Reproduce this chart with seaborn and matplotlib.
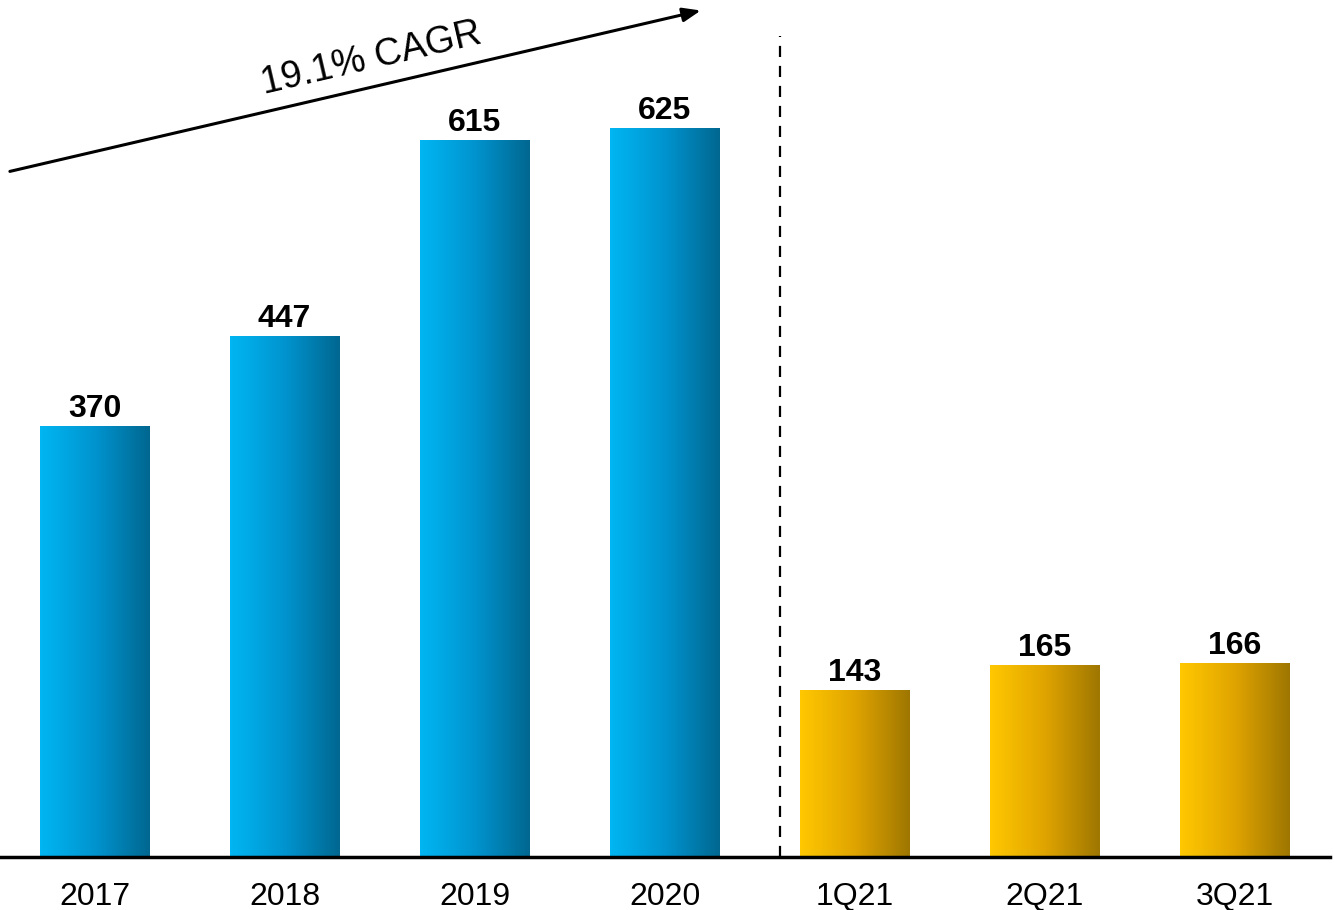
import numpy as np
import pandas as pd
import matplotlib
matplotlib.use("Agg")
import matplotlib.pyplot as plt
import seaborn as sns
from matplotlib.colors import LinearSegmentedColormap

categories = ["2017", "2018", "2019", "2020", "1Q21", "2Q21", "3Q21"]
values = [370, 447, 615, 625, 143, 165, 166]
groups = ["annual", "annual", "annual", "annual", "quarter", "quarter", "quarter"]
cagr_label = "19.1% CAGR"

sns.set_theme(style="white")
plt.rcParams['font.family'] = ['Liberation Sans', 'DejaVu Sans']

df = pd.DataFrame({"cat": categories, "val": values, "grp": groups})

fig = plt.figure(figsize=(13.34, 9.10), dpi=100)
ax = fig.add_axes([0, 53 / 910, 1330 / 1334, 857 / 910])

palette = {"annual": "#0098D0", "quarter": "#DDA800"}
sns.barplot(data=df, x="cat", y="val", hue="grp", palette=palette,
            width=0.575, dodge=False, legend=False, ax=ax, saturation=1)

grads = {
    "annual": LinearSegmentedColormap.from_list("b", ["#00B6F2", "#0094CF", "#006790"]),
    "quarter": LinearSegmentedColormap.from_list("g", ["#FFC800", "#E0A400", "#9E7600"]),
}
grad = np.linspace(0, 1, 256).reshape(1, -1)
bars = [p for p in ax.patches if p.get_height() > 0]
bars.sort(key=lambda p: p.get_x())
for p, g in zip(bars, groups):
    x0, y0 = p.get_x(), p.get_y()
    w, h = p.get_width(), p.get_height()
    im = ax.imshow(grad, cmap=grads[g], aspect="auto",
                   extent=[x0, x0 + w, y0, y0 + h], zorder=p.get_zorder() + 0.1)
    im.set_clip_path(p)
    p.set_edgecolor("none")

for cont in ax.containers:
    ax.bar_label(cont, fmt="%d", padding=1.5, fontsize=23, fontweight="bold", color="#000000")

ax.set_xlim(-0.497, 6.5)
ax.set_ylim(0, 735)
ax.set_xlabel("")
ax.set_ylabel("")
ax.set_yticks([])
ax.tick_params(axis="x", length=0, pad=18, labelsize=23, colors="#000000")
for s in ["top", "right", "left"]:
    ax.spines[s].set_visible(False)
ax.spines["bottom"].set_color("#000000")
ax.spines["bottom"].set_linewidth(2.5)
ax.spines["bottom"].set_zorder(5)

# divider
ax.plot([3.608, 3.608], [0, 704], color="#000000", lw=1.6, ls=(0, (5, 4)), zorder=4)

# CAGR arrow
ax.annotate("", xy=(3.19, 726), xytext=(-0.445, 588),
            arrowprops=dict(arrowstyle="-|>,head_length=0.9,head_width=0.35",
                            color="#000000", lw=2.2, shrinkA=0, shrinkB=0),
            annotation_clip=False)
ax.text(1.455, 685, cagr_label, fontsize=27, rotation=13.1, rotation_mode="anchor",
        ha="center", va="center", color="#000000")

fig.savefig("out.png", dpi=100)
